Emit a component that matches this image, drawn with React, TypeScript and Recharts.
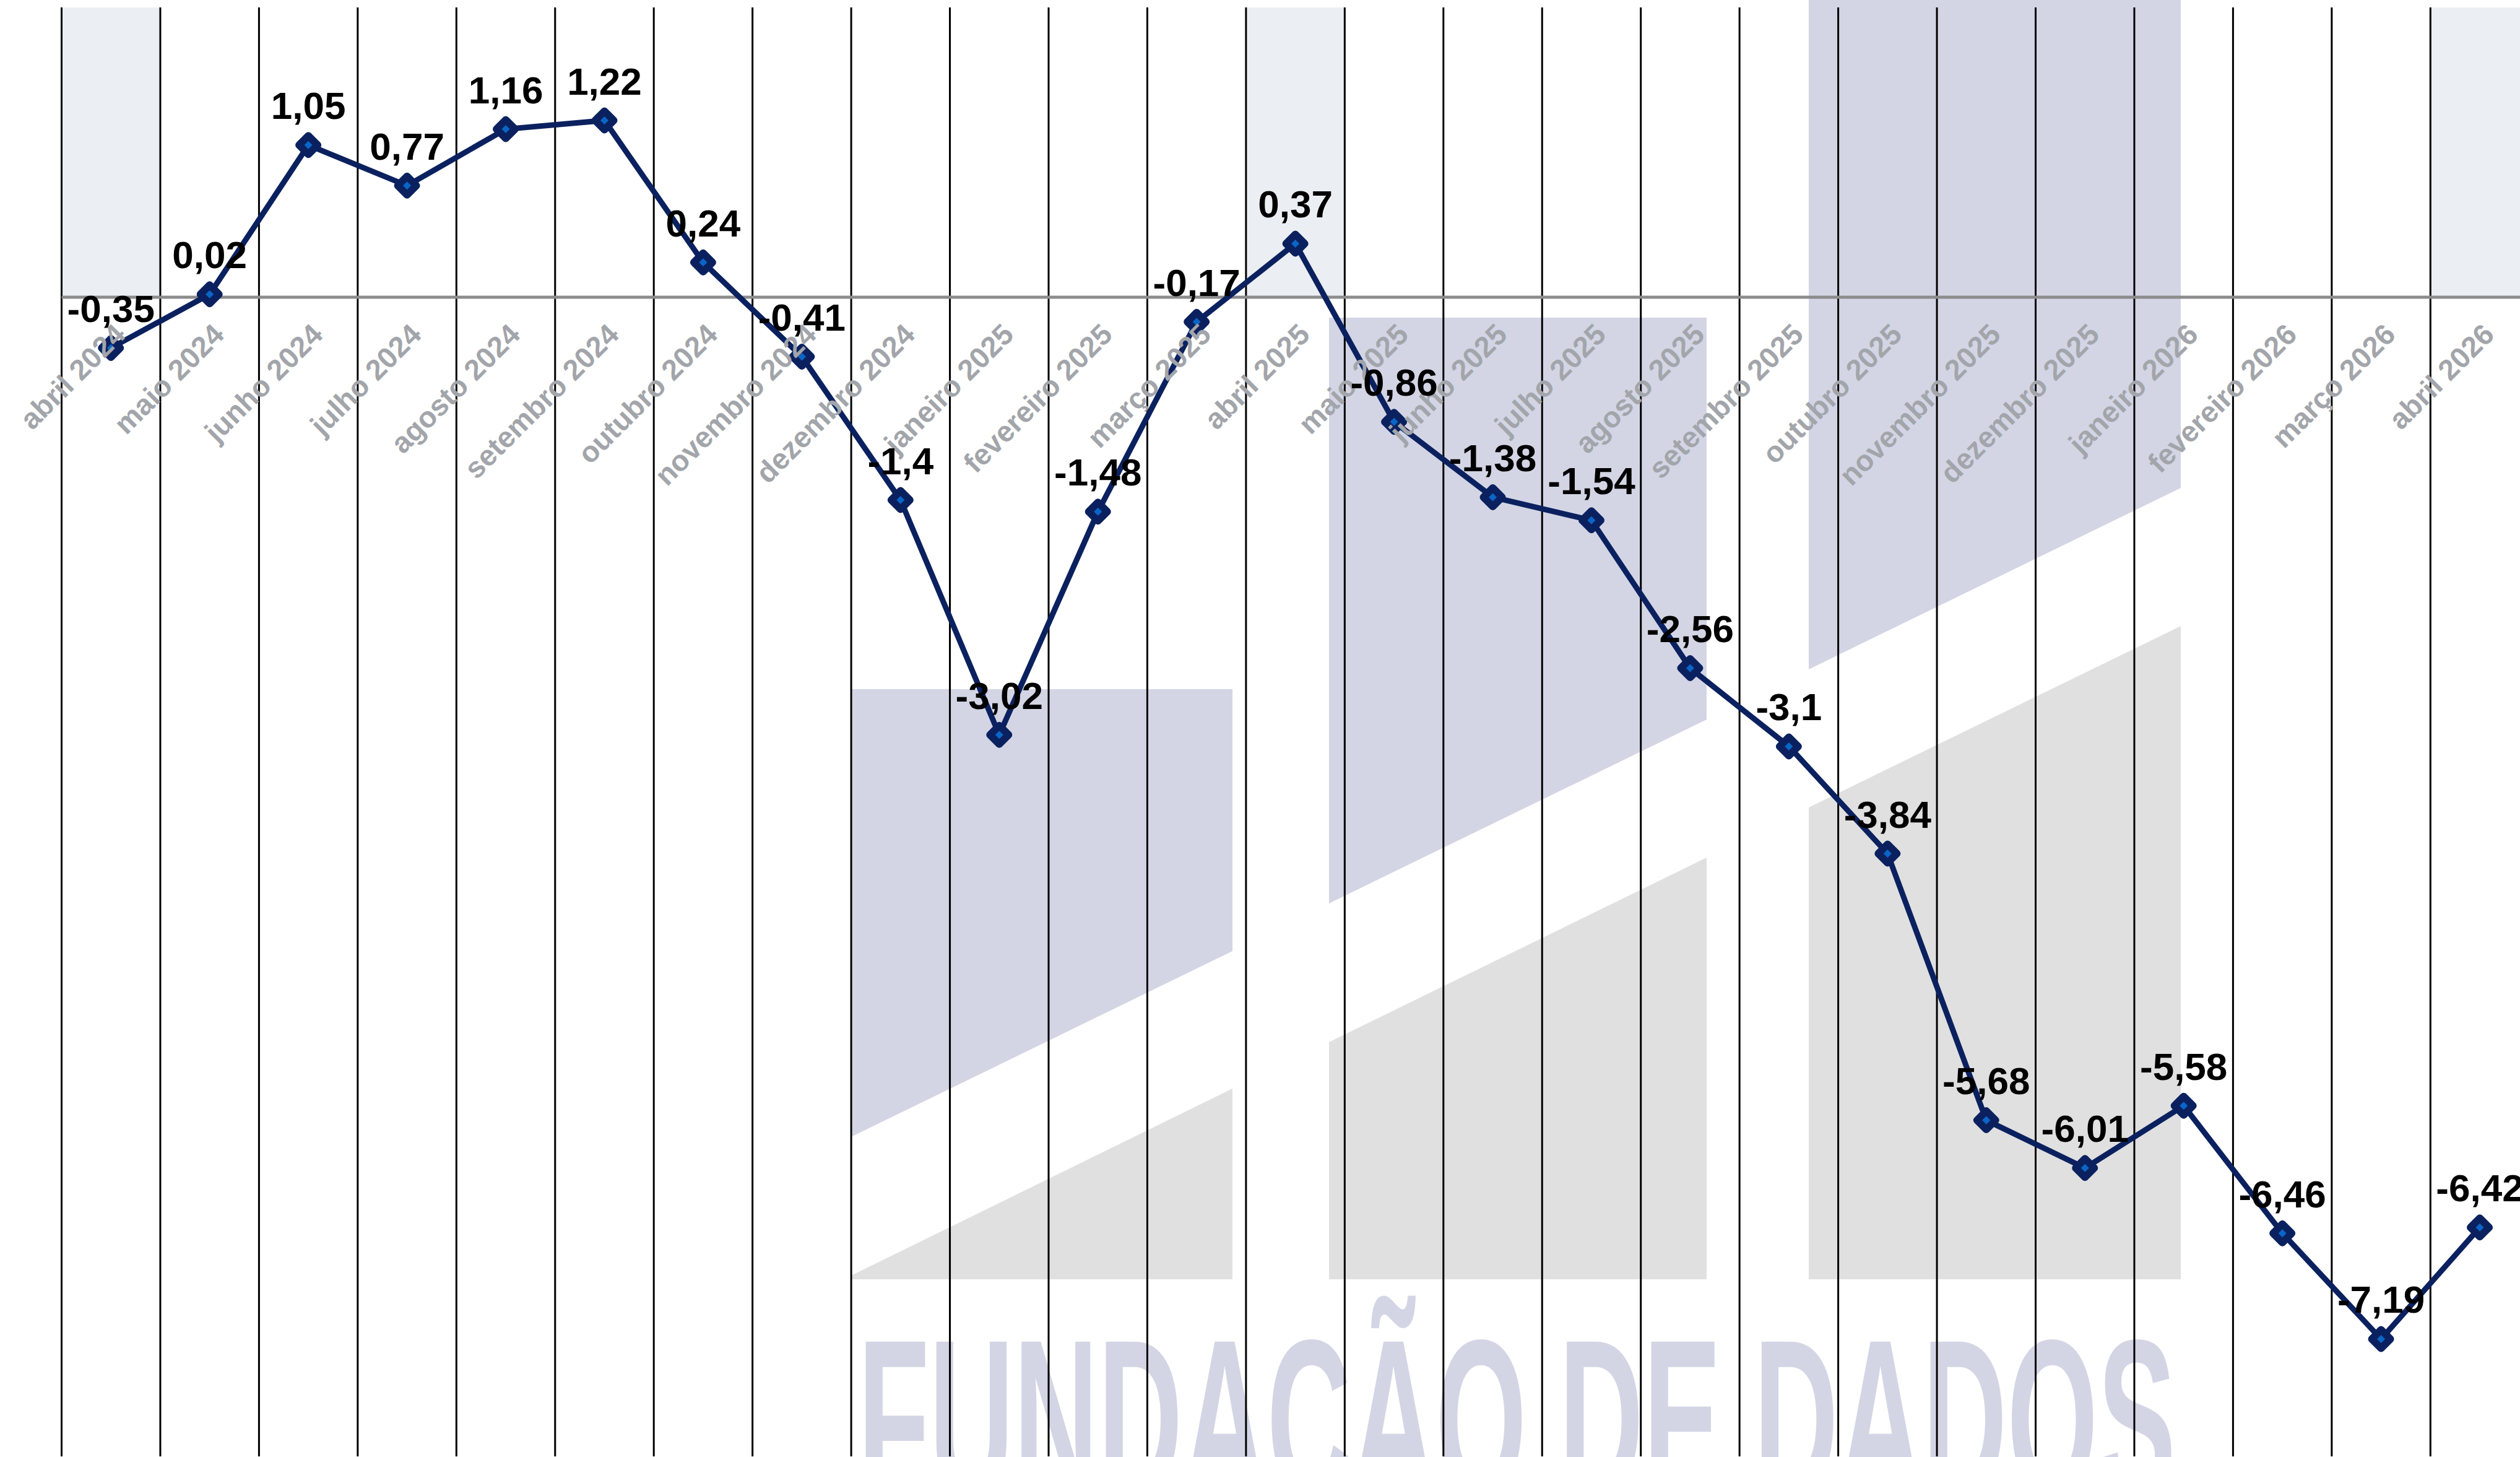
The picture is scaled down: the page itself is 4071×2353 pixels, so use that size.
import React from 'react';
import { LineChart, Line, XAxis, YAxis, ReferenceLine, ReferenceArea, LabelList } from 'recharts';

const months = [
  'abril 2024', 'maio 2024', 'junho 2024', 'julho 2024', 'agosto 2024', 'setembro 2024',
  'outubro 2024', 'novembro 2024', 'dezembro 2024', 'janeiro 2025', 'fevereiro 2025', 'março 2025',
  'abril 2025', 'maio 2025', 'junho 2025', 'julho 2025', 'agosto 2025', 'setembro 2025',
  'outubro 2025', 'novembro 2025', 'dezembro 2025', 'janeiro 2026', 'fevereiro 2026', 'março 2026',
  'abril 2026',
];
const values = [
  -0.35, 0.02, 1.05, 0.77, 1.16, 1.22,
  0.24, -0.41, -1.4, -3.02, -1.48, -0.17,
  0.37, -0.86, -1.38, -1.54, -2.56, -3.1,
  -3.84, -5.68, -6.01, -5.58, -6.46, -7.19,
  -6.42,
];
const highlightedMonths = ['abril 2024', 'abril 2025', 'abril 2026'];
const yDomain: [number, number] = [-8, 2];
const axisBaseline = 0;
const watermarkText = 'FUNDAÇÃO DE DADOS';

const data = months.map((month, i) => ({ month, value: values[i] }));

const FONT = '"Liberation Sans", Arial, Helvetica, sans-serif';
const NAVY = '#0b215f';

const fmt = (v: any) => String(v).replace('.', ',');

const renderDiamond = (props: any) => {
  const { cx, cy, index } = props;
  if (cx == null || cy == null) return <g key={`d-${index}`} />;
  const h = 15;
  return (
    <path
      key={`d-${index}`}
      d={`M${cx},${cy - h}L${cx + h},${cy}L${cx},${cy + h}L${cx - h},${cy}Z`}
      fill="#0a66c6"
      stroke={NAVY}
      strokeWidth={12}
      strokeLinejoin="round"
    />
  );
};

const MonthLabel = (props: any) => {
  const { x, y, value } = props;
  if (x == null || y == null) return null;
  const px = x + 26;
  const py = y + 63;
  return (
    <text
      x={px}
      y={py}
      transform={`rotate(-45 ${px} ${py})`}
      textAnchor="end"
      fontFamily={FONT}
      fontWeight="bold"
      fontSize={47}
      fill="#a2a5aa"
    >
      {value}
    </text>
  );
};

const Watermark = () => (
  <svg width={4071} height={2353} style={{ position: 'absolute', left: 0, top: 0 }}>
    <polygon points="1375,1113 1991,1113 1991,1536 1375,1836" fill="#d3d5e5" />
    <polygon points="1375,2060 1991,1758 1991,2066 1375,2066" fill="#e0e0e0" />
    <polygon points="2147,513 2757,513 2757,1162 2147,1459" fill="#d3d5e5" />
    <polygon points="2147,1683 2757,1385 2757,2066 2147,2066" fill="#e0e0e0" />
    <polygon points="2922,0 3523,0 3523,788 2922,1081" fill="#d3d5e5" />
    <polygon points="2922,1304 3523,1011 3523,2066 2922,2066" fill="#e0e0e0" />
    <text
      x={1386}
      y={2420}
      textLength={2129}
      lengthAdjust="spacingAndGlyphs"
      fontSize={368}
      fontWeight="bold"
      fontFamily={FONT}
      fill="#d3d5e5"
    >
      {watermarkText}
    </text>
  </svg>
);

export default function App() {
  return (
    <div
      style={{
        position: 'absolute',
        left: 0,
        top: 0,
        width: 4071,
        height: 2353,
        overflow: 'hidden',
        background: '#ffffff',
      }}
    >
      <Watermark />
      <div style={{ position: 'absolute', left: 0, top: 0 }}>
        <LineChart
          width={4100}
          height={2360}
          data={data}
          margin={{ top: 12, right: 14.25, bottom: 8, left: 99.5 }}
        >
          <XAxis dataKey="month" type="category" scale="band" hide />
          <YAxis type="number" domain={yDomain} hide allowDataOverflow />
          {highlightedMonths.map((m) => (
            <ReferenceArea
              key={`area-${m}`}
              x1={m}
              x2={m}
              y1={axisBaseline}
              y2={yDomain[1]}
              fill="#ebeef2"
              fillOpacity={1}
              stroke="none"
            />
          ))}
          {months.map((m) => (
            <ReferenceLine key={`grid-${m}`} x={m} position="start" stroke="#000000" strokeWidth={3} />
          ))}
          <ReferenceLine y={axisBaseline} stroke="#8c8c8c" strokeWidth={5} />
          <Line
            dataKey={() => axisBaseline}
            stroke="none"
            dot={false}
            activeDot={false}
            isAnimationActive={false}
            legendType="none"
          >
            <LabelList dataKey="month" content={MonthLabel} />
          </Line>
          <Line
            dataKey="value"
            type="linear"
            stroke={NAVY}
            strokeWidth={9}
            dot={renderDiamond}
            activeDot={false}
            isAnimationActive={false}
          >
            <LabelList
              dataKey="value"
              position="top"
              offset={42}
              formatter={fmt}
              fontFamily={FONT}
              fontWeight="bold"
              fontSize={62}
              fill="#000000"
            />
          </Line>
        </LineChart>
      </div>
    </div>
  );
}
